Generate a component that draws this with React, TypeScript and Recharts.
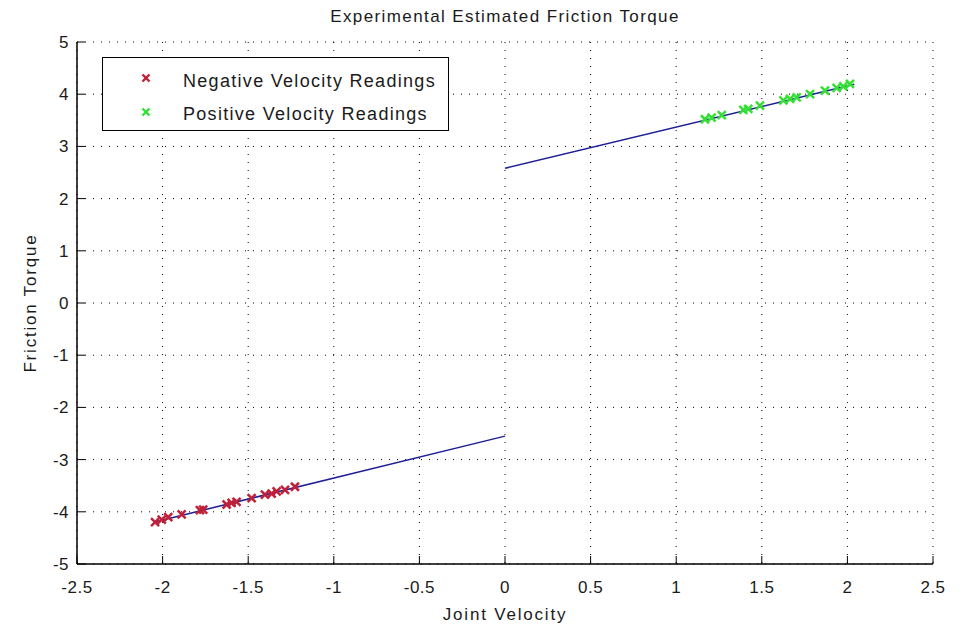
import React from "react";
import {
  ScatterChart,
  Scatter,
  XAxis,
  YAxis,
  CartesianGrid,
  Legend,
} from "recharts";

const negVelocity = [-2.044, -2.005, -1.967, -1.889, -1.782, -1.763, -1.626, -1.597, -1.568, -1.48, -1.402, -1.363, -1.334, -1.285, -1.227];
const negTorque = [-4.2, -4.15, -4.1, -4.05, -3.97, -3.96, -3.86, -3.83, -3.81, -3.74, -3.67, -3.65, -3.61, -3.58, -3.52];
const posVelocity = [1.168, 1.207, 1.266, 1.392, 1.421, 1.489, 1.626, 1.665, 1.704, 1.782, 1.869, 1.937, 1.976, 2.015];
const posTorque = [3.52, 3.55, 3.6, 3.7, 3.72, 3.78, 3.88, 3.91, 3.94, 4.0, 4.07, 4.12, 4.15, 4.2];
const negFitX = [-2.04, 0];
const negFitY = [-4.19, -2.55];
const posFitX = [0, 2.04];
const posFitY = [2.58, 4.19];
const xTicks = [-2.5, -2, -1.5, -1, -0.5, 0, 0.5, 1, 1.5, 2, 2.5];
const yTicks = [-5, -4, -3, -2, -1, 0, 1, 2, 3, 4, 5];

const zip = (xs: number[], ys: number[]) => xs.map((x, i) => ({ x, y: ys[i] }));
const negData = zip(negVelocity, negTorque);
const posData = zip(posVelocity, posTorque);
const negFit = zip(negFitX, negFitY);
const posFit = zip(posFitX, posFitY);

const RED = "#bf2139";
const GREEN = "#33e033";
const BLUE = "#1e1e96";
const FONT = "'Liberation Sans', Arial, sans-serif";
const TXT = "#1a1a1a";

const Cross = (color: string) => (props: any) => {
  const { cx, cy } = props;
  if (cx == null || cy == null) return null;
  const s = 4;
  return (
    <g stroke={color} strokeWidth={2.5}>
      <line x1={cx - s} y1={cy - s} x2={cx + s} y2={cy + s} />
      <line x1={cx - s} y1={cy + s} x2={cx + s} y2={cy - s} />
    </g>
  );
};

const NoShape = () => null;

const legendRows = [
  { c: RED, t: "Negative Velocity Readings", my: 20, ty: 13 },
  { c: GREEN, t: "Positive Velocity Readings", my: 54, ty: 46 },
];

const LegendBox = () => (
  <div
    style={{
      border: "1px solid #000",
      background: "#fff",
      width: 347,
      height: 74,
      boxSizing: "border-box",
      fontFamily: FONT,
      fontSize: 18,
      letterSpacing: 1.3,
      color: TXT,
      position: "relative",
    }}
  >
    {legendRows.map((r) => (
      <React.Fragment key={r.t}>
        <svg width={12} height={12} style={{ position: "absolute", left: 37, top: r.my - 6, display: "block" }}>
          <g stroke={r.c} strokeWidth={2.4}>
            <line x1={2.5} y1={2.5} x2={9.5} y2={9.5} />
            <line x1={2.5} y1={9.5} x2={9.5} y2={2.5} />
          </g>
        </svg>
        <span style={{ position: "absolute", left: 80, top: r.ty, lineHeight: "20px", whiteSpace: "nowrap" }}>{r.t}</span>
      </React.Fragment>
    ))}
  </div>
);

export default function App() {
  return (
    <div style={{ position: "absolute", left: 0, top: 0, width: 963, height: 628, background: "#fff" }}>
      <div
        style={{
          position: "absolute",
          top: 7,
          left: 0,
          width: 1010,
          textAlign: "center",
          fontFamily: FONT,
          fontSize: 17,
          lineHeight: "19px",
          letterSpacing: 1.4,
          color: TXT,
        }}
      >
        Experimental Estimated Friction Torque
      </div>
      <ScatterChart
        width={963}
        height={628}
        margin={{ top: 42, right: 30, bottom: 8, left: 27 }}
      >
        <CartesianGrid stroke="#000" strokeDasharray="1 7" strokeWidth={1} />
        <XAxis
          type="number"
          dataKey="x"
          domain={[-2.5, 2.5]}
          ticks={xTicks}
          interval={0}
          height={56}
          stroke="#000"
          tickSize={-8}
          tickMargin={25}
          tick={{ fill: TXT, fontSize: 17, fontFamily: FONT, letterSpacing: 0.5 }}
          tickFormatter={(v: number) => String(v)}
          axisLine={{ stroke: "#000", strokeWidth: 1.5 }}
          label={{ value: "Joint Velocity", position: "insideBottom", offset: 0, fill: TXT, fontSize: 17, fontFamily: FONT, style: { letterSpacing: 1.8 } }}
        />
        <YAxis
          type="number"
          dataKey="y"
          domain={[-5, 5]}
          ticks={yTicks}
          interval={0}
          width={50}
          stroke="#000"
          tickSize={-8}
          tickMargin={16}
          tick={{ fill: TXT, fontSize: 17, fontFamily: FONT, letterSpacing: 0.5 }}
          axisLine={{ stroke: "#000", strokeWidth: 1.5 }}
          label={{ value: "Friction Torque", angle: -90, position: "insideLeft", offset: 3, fill: TXT, fontSize: 17, fontFamily: FONT, style: { textAnchor: "middle", letterSpacing: 1.8 } }}
        />
        <Scatter data={negFit} line={{ stroke: BLUE, strokeWidth: 1.5 }} shape={NoShape} isAnimationActive={false} legendType="none" />
        <Scatter data={posFit} line={{ stroke: BLUE, strokeWidth: 1.5 }} shape={NoShape} isAnimationActive={false} legendType="none" />
        <Scatter name="Negative Velocity Readings" data={negData} shape={Cross(RED)} isAnimationActive={false} />
        <Scatter name="Positive Velocity Readings" data={posData} shape={Cross(GREEN)} isAnimationActive={false} />
        <Legend
          content={<LegendBox />}
          layout="vertical"
          verticalAlign="middle"
          align="center"
          wrapperStyle={{ position: "absolute", left: 102, top: 57, width: 347, height: 74 }}
        />
      </ScatterChart>
    </div>
  );
}
